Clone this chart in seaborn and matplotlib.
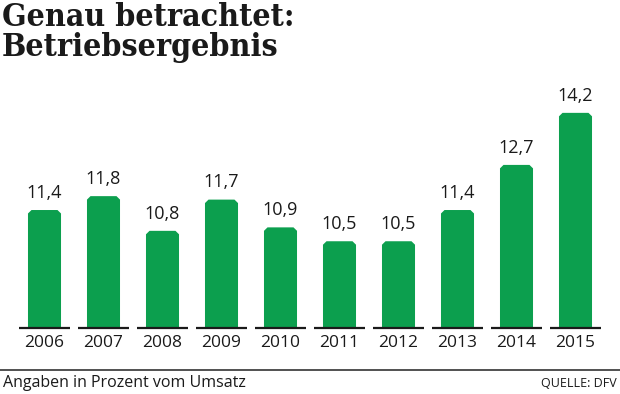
import matplotlib
matplotlib.use("Agg")
import matplotlib.pyplot as plt
from matplotlib.patches import Polygon
from matplotlib.lines import Line2D
import pandas as pd
import seaborn as sns

# Daten: Betriebsergebnis in Prozent vom Umsatz
jahre = ["2006", "2007", "2008", "2009", "2010", "2011", "2012", "2013", "2014", "2015"]
werte = [11.4, 11.8, 10.8, 11.7, 10.9, 10.5, 10.5, 11.4, 12.7, 14.2]

titel_1 = "Genau betrachtet:"
titel_2 = "Betriebsergebnis"
fussnote = "Angaben in Prozent vom Umsatz"
quelle = "QUELLE: DFV"

GRUEN = "#0c9f4e"
Y_START = 8.0

df = pd.DataFrame({"jahr": jahre, "wert": werte})

sns.set_style("white")
plt.rcParams["font.family"] = ["Open Sans", "DejaVu Sans"]

fig = plt.figure(figsize=(6.2, 3.94), dpi=100)
ax = fig.add_axes([15 / 620, 66 / 394, 590 / 620, 268 / 394])

sns.barplot(data=df, x="jahr", y="wert", color=GRUEN, width=0.56,
            saturation=1, ax=ax, bottom=0)

ax.set_ylim(Y_START, Y_START + 268 / 34.7)
ax.set_xlim(-0.5, len(jahre) - 0.5)

# Balken mit abgeschraegten oberen Ecken
dx, dy = 0.06, 0.1
for p in list(ax.patches):
    x0 = p.get_x()
    w = p.get_width()
    top = p.get_y() + p.get_height()
    p.set_visible(False)
    pts = [(x0, Y_START), (x0, top - dy), (x0 + dx, top),
           (x0 + w - dx, top), (x0 + w, top - dy), (x0 + w, Y_START)]
    ax.add_patch(Polygon(pts, closed=True, facecolor=GRUEN, edgecolor="none",
                         clip_on=False))

# Wertebeschriftung
for i, v in enumerate(werte):
    ax.annotate(f"{v:.1f}".replace(".", ","), (i, v), xytext=(0, 6),
                textcoords="offset points", ha="center", va="bottom",
                fontsize=13, color="#1a1a1a", annotation_clip=False)

# kurze Grundlinien unter jedem Balken
for i in range(len(jahre)):
    ax.hlines(Y_START, i - 0.44, i + 0.44, color="#1a1a1a", lw=1.6,
              clip_on=False, zorder=5)

for s in ax.spines.values():
    s.set_visible(False)
ax.set_yticks([])
ax.set_xlabel("")
ax.set_ylabel("")
ax.tick_params(axis="x", length=0, pad=5, labelsize=12.5, labelcolor="#1a1a1a")

# Titel
for txt, base in [(titel_1, 26), (titel_2, 56)]:
    fig.text(2 / 620, 1 - base / 394, txt, ha="left", va="baseline",
             fontsize=23, fontweight="bold", family="DejaVu Serif",
             fontstretch="condensed", color="#1a1a1a")

# Trennlinie und Fussnote
fig.add_artist(Line2D([0, 1], [1 - 370 / 394, 1 - 370 / 394],
                      transform=fig.transFigure, color="#333333", lw=1.2))
fig.text(3 / 620, 1 - 387 / 394, fussnote, ha="left", va="baseline",
         fontsize=11.5, color="#1a1a1a")
fig.text(617 / 620, 1 - 387 / 394, quelle, ha="right", va="baseline",
         fontsize=9, color="#1a1a1a")

fig.savefig("out.png", dpi=100)
